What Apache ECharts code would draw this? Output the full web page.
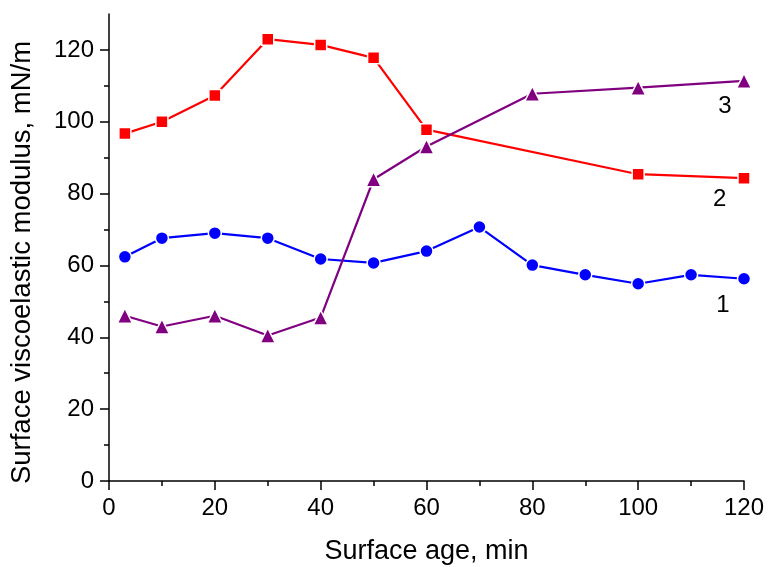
<!DOCTYPE html>
<html>
<head>
<meta charset="utf-8">
<script src="https://cdn.jsdelivr.net/npm/echarts@6/dist/echarts.min.js"></script>
<style>html,body{margin:0;padding:0;background:#fff}#c{width:768px;height:567px}</style>
</head>
<body>
<div id="c"></div>
<script>
// Series 1 (blue circles)
const x1 = [3, 10, 20, 30, 40, 50, 60, 70, 80, 90, 100, 110, 120];
const y1 = [62.4, 67.6, 69.0, 67.6, 61.8, 60.7, 64.0, 70.7, 60.1, 57.4, 54.9, 57.4, 56.3];
// Series 2 (red squares)
const x2 = [3, 10, 20, 30, 40, 50, 60, 100, 120];
const y2 = [96.7, 100.0, 107.3, 123.0, 121.4, 117.8, 97.8, 85.4, 84.3];
// Series 3 (purple triangles)
const x3 = [3, 10, 20, 30, 40, 50, 60, 80, 100, 120];
const y3 = [46.0, 43.0, 46.0, 40.5, 45.5, 84.0, 93.1, 107.8, 109.5, 111.4];
// Curve labels
const curveNames = ['1', '2', '3'];
const curveLabelPos = [[116.0, 49], [115.4, 78.4], [116.4, 104.2]];
// Ticks
const yMajor = [0, 20, 40, 60, 80, 100, 120];
const yMinor = [10, 30, 50, 70, 90, 110];

const FONT = 'Liberation Sans, Arial, sans-serif';
const zip = (xs, ys) => xs.map((x, i) => [x, ys[i]]);

function mk(name, xs, ys, color, symbol, size, idx) {
  return {
    name: name, type: 'line', data: zip(xs, ys),
    symbol: symbol, symbolSize: size,
    lineStyle: {color: color, width: 2.2},
    itemStyle: {color: color, borderColor: '#fff', borderWidth: 1.5},
    emphasis: {disabled: true},
    z: 3,
    markPoint: {
      symbol: 'circle', symbolSize: 0,
      label: {show: true, position: 'inside', color: '#000', fontSize: 24, fontFamily: FONT,
              formatter: curveNames[idx]},
      data: [{coord: curveLabelPos[idx]}]
    }
  };
}

const chart = echarts.init(document.getElementById('c'));
chart.setOption({
  animation: false,
  backgroundColor: '#fff',
  grid: {left: 109, right: 24, top: 14, bottom: 86, containLabel: false, outerBoundsMode: 'none'},
  xAxis: {
    type: 'value', min: 0, max: 120, interval: 20,
    name: 'Surface age, min', nameLocation: 'middle', nameGap: 57,
    nameTextStyle: {fontSize: 27, color: '#000', fontFamily: FONT},
    axisLine: {lineStyle: {color: '#000', width: 1.5}},
    axisTick: {show: true, length: 9, lineStyle: {color: '#000', width: 1.5}},
    minorTick: {show: true, splitNumber: 2, length: 5, lineStyle: {color: '#000', width: 1.5}},
    axisLabel: {fontSize: 24, color: '#000', fontFamily: FONT, margin: 15},
    splitLine: {show: false}, minorSplitLine: {show: false}
  },
  yAxis: [{
    type: 'value', min: 0, max: 130,
    name: 'Surface viscoelastic modulus, mN/m', nameLocation: 'middle', nameGap: 73,
    nameTextStyle: {fontSize: 27.5, color: '#000', fontFamily: FONT, padding: [0, 30, 0, 0]},
    axisLine: {show: true, lineStyle: {color: '#000', width: 1.5}},
    axisTick: {show: true, length: 9, customValues: yMajor, lineStyle: {color: '#000', width: 1.5}},
    axisLabel: {fontSize: 24, color: '#000', fontFamily: FONT, margin: 15, customValues: yMajor},
    splitLine: {show: false}
  }, {
    type: 'value', min: 0, max: 130, position: 'left',
    axisLine: {show: false},
    axisTick: {show: true, length: 5, customValues: yMinor, lineStyle: {color: '#000', width: 1.5}},
    axisLabel: {show: false},
    splitLine: {show: false}
  }],
  series: [
    mk('1', x1, y1, '#0000ff', 'circle', 13, 0),
    mk('2', x2, y2, '#ff0000', 'rect', 12, 1),
    mk('3', x3, y3, '#800080', 'triangle', 15, 2)
  ]
});
</script>
</body>
</html>
